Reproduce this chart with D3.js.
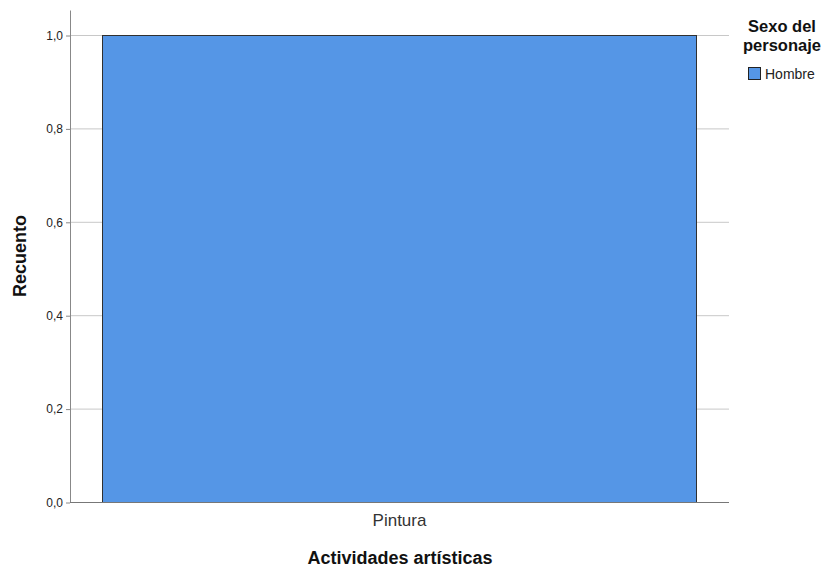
<!DOCTYPE html>
<html>
<head>
<meta charset="utf-8">
<script src="https://d3js.org/d3.v7.min.js"></script>
<style>
  body { margin: 0; background: #fff; }
  text { font-family: "Liberation Sans", Arial, sans-serif; }
</style>
</head>
<body>
<div id="chart"></div>
<script>
// Data
var categories = ["Pintura"];
var seriesNames = ["Hombre"];
var counts = [1.0];
var yTicks = [0, 0.2, 0.4, 0.6, 0.8, 1.0];

var width = 829, height = 567;
var plotLeft = 70, plotRight = 729, plotTop = 35, plotBottom = 502;
var barColor = "#5596e6";

var svg = d3.select("#chart").append("svg")
  .attr("width", width)
  .attr("height", height);

var x = d3.scaleBand()
  .domain(categories)
  .range([plotLeft, plotRight])
  .paddingInner(0)
  .paddingOuter(0.0547);

var y = d3.scaleLinear()
  .domain([0, 1])
  .range([plotBottom, plotTop]);

var fmt = function(d) { return d3.format(".1f")(d).replace(".", ","); };

// gridlines
svg.append("g")
  .selectAll("line")
  .data(yTicks)
  .enter()
  .append("line")
  .attr("x1", plotLeft)
  .attr("x2", plotRight)
  .attr("y1", function(d) { return y(d) + 0.5; })
  .attr("y2", function(d) { return y(d) + 0.5; })
  .attr("stroke", "#c8c8c8")
  .attr("stroke-width", 1);

// bars
svg.append("g")
  .selectAll("rect")
  .data(counts)
  .enter()
  .append("rect")
  .attr("x", function(d, i) { return Math.round(x(categories[i])) + 0.5; })
  .attr("y", function(d) { return y(d) + 0.5; })
  .attr("width", Math.round(x.bandwidth()))
  .attr("height", function(d) { return y(0) - y(d); })
  .attr("fill", barColor)
  .attr("stroke", "#303030")
  .attr("stroke-width", 1);

// y axis
var yAxis = svg.append("g")
  .attr("transform", "translate(" + plotLeft + ",0.5)")
  .call(d3.axisLeft(y).tickValues(yTicks).tickFormat(fmt).tickSize(4).tickPadding(3));
yAxis.select(".domain").remove();
yAxis.selectAll(".tick line").attr("stroke", "#888");
yAxis.selectAll(".tick text")
  .attr("font-size", 12)
  .attr("fill", "#222");
yAxis.append("line")
  .attr("x1", 0.5).attr("x2", 0.5)
  .attr("y1", 10).attr("y2", plotBottom)
  .attr("stroke", "#888");

// x axis
var xAxis = svg.append("g")
  .attr("transform", "translate(0," + plotBottom + ")")
  .call(d3.axisBottom(x).tickSize(0).tickPadding(12));
xAxis.select(".domain").remove();
xAxis.selectAll(".tick text")
  .attr("font-size", 17)
  .attr("fill", "#333");
xAxis.append("line")
  .attr("x1", plotLeft).attr("x2", plotRight)
  .attr("y1", 0.5).attr("y2", 0.5)
  .attr("stroke", "#777");

// axis titles
svg.append("text")
  .attr("x", 400)
  .attr("y", 564)
  .attr("text-anchor", "middle")
  .attr("font-size", 18)
  .attr("font-weight", "bold")
  .attr("fill", "#111")
  .text("Actividades artísticas");

svg.append("text")
  .attr("transform", "translate(26,256) rotate(-90)")
  .attr("text-anchor", "middle")
  .attr("font-size", 18)
  .attr("font-weight", "bold")
  .attr("fill", "#111")
  .text("Recuento");

// legend
var legend = svg.append("g");
legend.append("text")
  .attr("x", 782).attr("y", 32)
  .attr("text-anchor", "middle")
  .attr("font-size", 16.5).attr("font-weight", "bold").attr("fill", "#111")
  .text("Sexo del");
legend.append("text")
  .attr("x", 782).attr("y", 51)
  .attr("text-anchor", "middle")
  .attr("font-size", 16.5).attr("font-weight", "bold").attr("fill", "#111")
  .text("personaje");
legend.selectAll("rect")
  .data(seriesNames)
  .enter()
  .append("rect")
  .attr("x", 748.5).attr("y", function(d, i) { return 67.5 + i * 18; })
  .attr("width", 12).attr("height", 12)
  .attr("fill", barColor).attr("stroke", "#222");
legend.selectAll("text.item")
  .data(seriesNames)
  .enter()
  .append("text")
  .attr("class", "item")
  .attr("x", 765).attr("y", function(d, i) { return 79 + i * 18; })
  .attr("font-size", 14).attr("fill", "#222")
  .text(function(d) { return d; });
</script>
</body>
</html>
